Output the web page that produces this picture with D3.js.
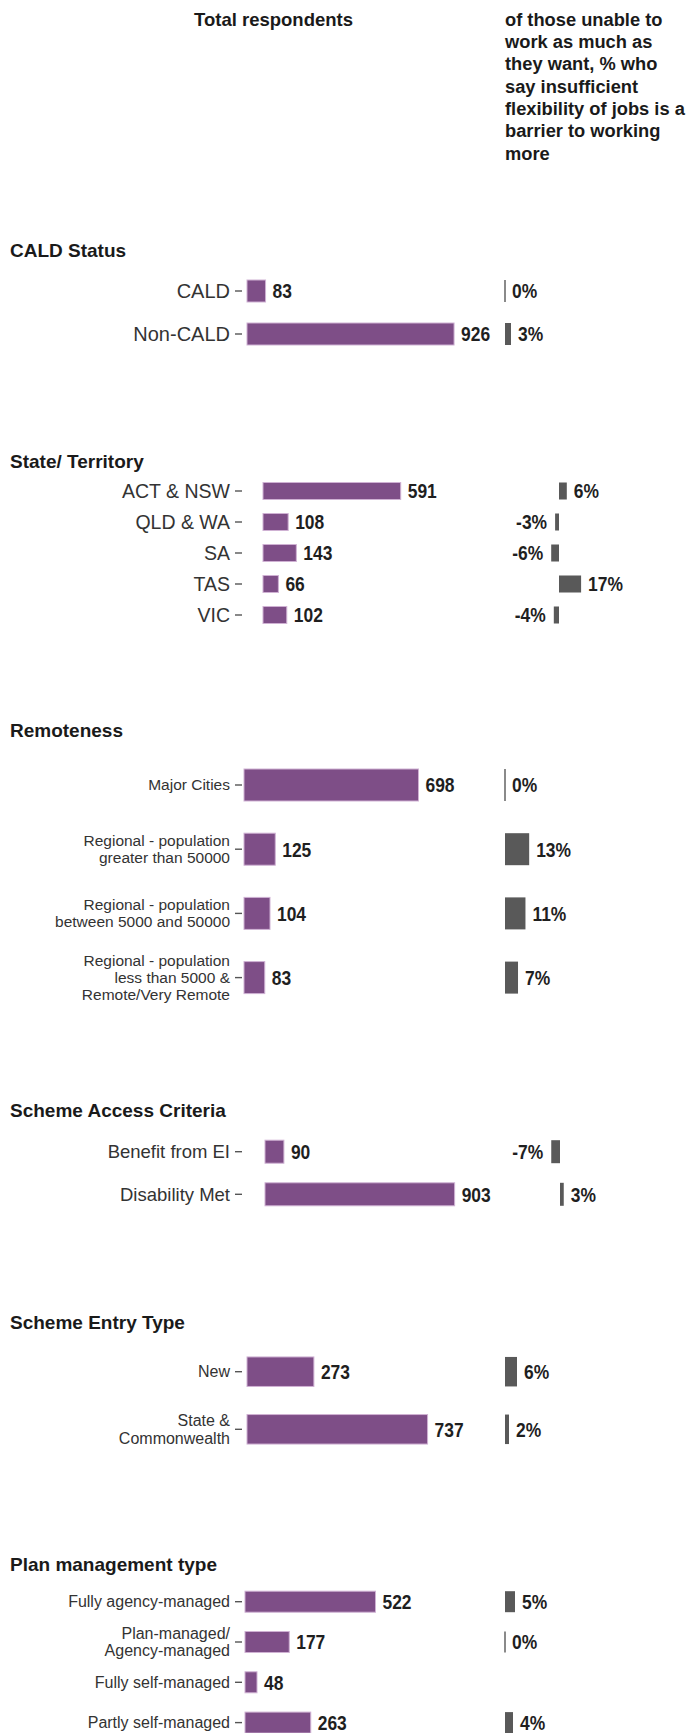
<!DOCTYPE html>
<html><head><meta charset="utf-8">
<script src="https://cdn.jsdelivr.net/npm/d3@7"></script>
<style>body{margin:0;background:#fff} svg{display:block;font-family:"Liberation Sans",Arial,sans-serif}</style>
</head><body><svg id="c" width="689" height="1733"></svg>
<script>
// ---------- data ----------
const headerLeft = "Total respondents";
const headerRight = ["of those unable to", "work as much as", "they want, % who", "say insufficient", "flexibility of jobs is a", "barrier to working", "more"];

const sectionTitles = ["CALD Status", "State/ Territory", "Remoteness", "Scheme Access Criteria", "Scheme Entry Type", "Plan management type"];

const caldCategories = ["CALD", "Non-CALD"];
const caldTotals = [83, 926];
const caldPct = [0, 3];

const stateCategories = ["ACT & NSW", "QLD & WA", "SA", "TAS", "VIC"];
const stateTotals = [591, 108, 143, 66, 102];
const statePct = [6, -3, -6, 17, -4];

const remoteCategories = ["Major Cities", "Regional - population\ngreater than 50000", "Regional - population\nbetween 5000 and 50000", "Regional - population\nless than 5000 &\nRemote/Very Remote"];
const remoteTotals = [698, 125, 104, 83];
const remotePct = [0, 13, 11, 7];

const accessCategories = ["Benefit from EI", "Disability Met"];
const accessTotals = [90, 903];
const accessPct = [-7, 3];

const entryCategories = ["New", "State &\nCommonwealth"];
const entryTotals = [273, 737];
const entryPct = [6, 2];

const planCategories = ["Fully agency-managed", "Plan-managed/\nAgency-managed", "Fully self-managed", "Partly self-managed"];
const planTotals = [522, 177, 48, 263];
const planPct = [5, 0, null, 4];

const groups = [
  {cats: caldCategories, totals: caldTotals, pct: caldPct},
  {cats: stateCategories, totals: stateTotals, pct: statePct},
  {cats: remoteCategories, totals: remoteTotals, pct: remotePct},
  {cats: accessCategories, totals: accessTotals, pct: accessPct},
  {cats: entryCategories, totals: entryTotals, pct: entryPct},
  {cats: planCategories, totals: planTotals, pct: planPct}
];

// ---------- layout (positions / sizes) ----------
const layout = [
  {titleY: 250,   rowY: 291,   step: 43,   barH: 22,   x0: 247, k: 0.2236, zero: 505, k2: 2.0,  font: 20,   lineH: 22},
  {titleY: 461.7, rowY: 491,   step: 31,   barH: 17,   x0: 263, k: 0.233,  zero: 559, k2: 1.3,  font: 19.5, lineH: 20},
  {titleY: 730,   rowY: 785,   step: 64.2, barH: 32,   x0: 244, k: 0.25,   zero: 505, k2: 1.86, font: 15.5, lineH: 17},
  {titleY: 1110.7,rowY: 1151.7,step: 42.6, barH: 23,   x0: 265, k: 0.21,   zero: 560, k2: 1.25, font: 18.5, lineH: 20},
  {titleY: 1322.7,rowY: 1371.7,step: 57.6, barH: 29.5, x0: 247, k: 0.245,  zero: 505, k2: 2.0,  font: 16,   lineH: 17.5},
  {titleY: 1564.3,rowY: 1601.7,step: 40.3, barH: 21,   x0: 245, k: 0.25,   zero: 505, k2: 2.0,  font: 16,   lineH: 17}
];
const axisX = 242, tickLen = 7, tickPad = 5;
const purple = "#7e4e87", purpleEdge = "#cfb1d3", grey = "#595959";
const valFont = 21, narrowK = 0.83;

const svg = d3.select("#c");
svg.append("rect").attr("width", 689).attr("height", 1733).attr("fill", "#fff");

// headers
svg.append("text").attr("x", 273.5).attr("y", 19.3).attr("dy", "0.35em")
  .attr("text-anchor", "middle").attr("font-weight", "bold").attr("font-size", 18.5)
  .attr("fill", "#1a1a1a").text(headerLeft);
const hr = svg.append("text").attr("font-weight", "bold").attr("font-size", 18.3).attr("fill", "#1a1a1a");
headerRight.forEach((ln, i) => {
  hr.append("tspan").attr("x", 505).attr("y", 19.3 + i * 22.3).attr("dy", "0.35em").text(ln);
});

function narrowText(g, x, y, txt, anchor) {
  return g.append("text")
    .attr("transform", `translate(${x},${y}) scale(${narrowK},1)`)
    .attr("dy", "0.35em").attr("text-anchor", anchor)
    .attr("font-weight", "bold").attr("font-size", valFont).attr("fill", "#1f1f1f")
    .text(txt);
}

groups.forEach((grp, gi) => {
  const L = layout[gi];
  const g = svg.append("g");
  // title
  g.append("text").attr("x", 10).attr("y", L.titleY).attr("dy", "0.35em")
    .attr("font-weight", "bold").attr("font-size", 19).attr("fill", "#1a1a1a")
    .text(sectionTitles[gi]);

  const n = grp.cats.length;
  const y = d3.scaleBand().domain(grp.cats)
    .range([L.rowY - L.step / 2, L.rowY + (n - 0.5) * L.step])
    .paddingInner(1 - L.barH / L.step).paddingOuter((1 - L.barH / L.step) / 2);
  const x = d3.scaleLinear().domain([0, 1000]).range([L.x0, L.x0 + 1000 * L.k]);
  const xp = d3.scaleLinear().domain([-20, 20]).range([L.zero - 20 * L.k2, L.zero + 20 * L.k2]);

  // axis
  const ax = g.append("g").attr("transform", `translate(${axisX},0)`)
    .call(d3.axisLeft(y).tickSize(tickLen).tickPadding(tickPad));
  ax.select(".domain").remove();
  ax.selectAll(".tick line").attr("stroke", "#555").attr("stroke-width", 1.4);
  ax.selectAll(".tick text").attr("font-size", L.font).attr("fill", "#333")
    .attr("font-family", '"Liberation Sans",Arial,sans-serif')
    .each(function (d) {
      const lines = d.split("\n");
      const t = d3.select(this).text(null).attr("dy", null);
      lines.forEach((ln, i) => {
        t.append("tspan").attr("x", -(tickLen + tickPad))
          .attr("dy", i === 0 ? (-(lines.length - 1) / 2 * L.lineH + 0.35 * L.font) : L.lineH)
          .text(ln);
      });
    });

  const rows = grp.cats.map((c, i) => ({c, v: grp.totals[i], p: grp.pct[i]}));

  // left bars
  g.selectAll(".bar").data(rows).join("rect")
    .attr("x", x(0)).attr("y", d => y(d.c))
    .attr("width", d => x(d.v) - x(0)).attr("height", y.bandwidth())
    .attr("fill", purple).attr("stroke", purpleEdge).attr("stroke-width", 1);
  rows.forEach(d => narrowText(g, x(d.v) + 7, y(d.c) + y.bandwidth() / 2, d.v, "start"));

  // right bars
  const rp = rows.filter(d => d.p !== null);
  g.selectAll(".pbar").data(rp).join("rect")
    .attr("x", d => d.p === 0 ? xp(0) - 0.7 : Math.min(xp(0), xp(d.p)))
    .attr("y", d => y(d.c))
    .attr("width", d => d.p === 0 ? 1.4 : Math.abs(xp(d.p) - xp(0)))
    .attr("height", y.bandwidth())
    .attr("fill", grey);
  rp.forEach(d => {
    const cy = y(d.c) + y.bandwidth() / 2;
    if (d.p < 0) narrowText(g, xp(d.p) - 8, cy, d.p + "%", "end");
    else narrowText(g, xp(d.p) + 7, cy, d.p + "%", "start");
  });
});
</script>
</body></html>
